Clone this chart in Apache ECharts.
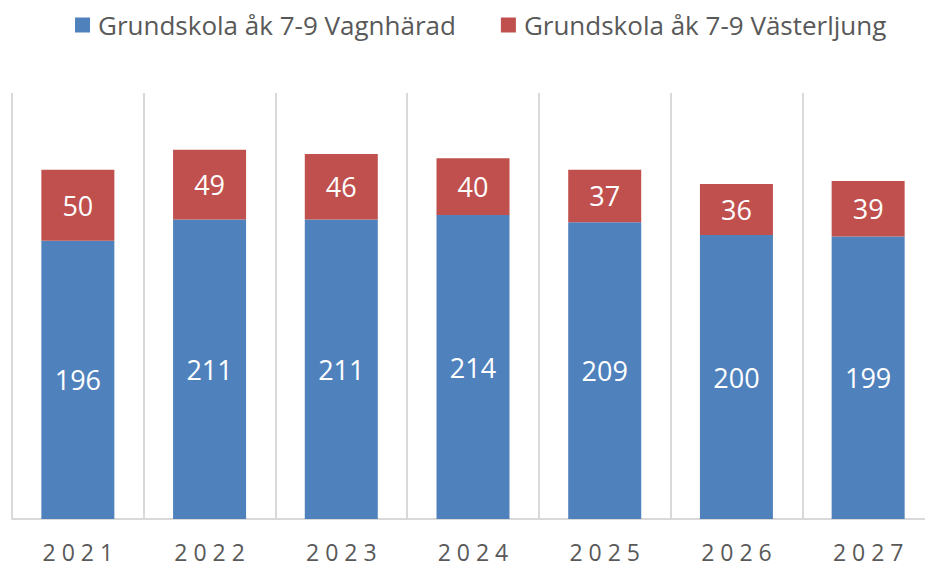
<!DOCTYPE html>
<html>
<head>
<meta charset="utf-8">
<script src="https://cdn.jsdelivr.net/npm/echarts@6/dist/echarts.min.js"></script>
<style>
  html, body { margin: 0; padding: 0; background: #fff; }
  #container { width: 925px; height: 566px; }
</style>
</head>
<body>
<div id="container"></div>
<script>
const years = ['2021', '2022', '2023', '2024', '2025', '2026', '2027']
const vagnharad = [196, 211, 211, 214, 209, 200, 199]
const vasterljung = [50, 49, 46, 40, 37, 36, 39]
const seriesNames = ['Grundskola åk 7-9 Vagnhärad', 'Grundskola åk 7-9 Västerljung']

const chart = echarts.init(document.getElementById('container'), null, { renderer: 'svg' })
const fontFamily = '"Open Sans", sans-serif'

const option = {
  animation: false,
  color: ['#4F81BD', '#C0504D'],
  legend: {
    left: 70,
    top: 7,
    itemWidth: 15,
    itemHeight: 15,
    itemGap: 45,
    icon: 'rect',
    textStyle: {
      color: '#595959',
      fontSize: 26,
      fontFamily: fontFamily,
      padding: [0, 0, 0, 3]
    },
    data: seriesNames
  },
  grid: {
    left: 12,
    right: -9,
    top: 93,
    bottom: 47,
    outerBoundsMode: 'none'
  },
  xAxis: {
    type: 'category',
    data: years,
    axisLine: { lineStyle: { color: '#D9D9D9', width: 2 } },
    axisTick: { show: false },
    splitLine: { show: true, lineStyle: { color: '#D9D9D9', width: 2 } },
    axisLabel: {
      color: '#595959',
      fontSize: 23,
      fontFamily: fontFamily,
      margin: 21,
      // spaced-out digits like the original
      formatter: v => v.split('').join(' ')
    }
  },
  yAxis: {
    type: 'value',
    min: 0,
    max: 300,
    show: false,
    splitLine: { show: false }
  },
  series: [
    {
      name: seriesNames[0],
      type: 'bar',
      stack: 'total',
      data: vagnharad,
      barWidth: 73,
      label: { show: true, position: 'inside', color: '#fff', fontSize: 27, fontFamily: fontFamily }
    },
    {
      name: seriesNames[1],
      type: 'bar',
      stack: 'total',
      data: vasterljung,
      barWidth: 73,
      label: { show: true, position: 'inside', color: '#fff', fontSize: 27, fontFamily: fontFamily }
    }
  ]
}

chart.setOption(option)
</script>
</body>
</html>
